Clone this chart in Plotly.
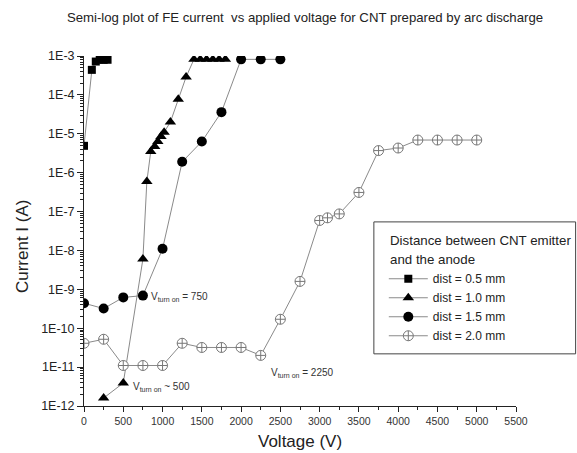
import plotly.graph_objects as go

title = "Semi-log plot of FE current  vs applied voltage for CNT prepared by arc discharge"
x_title = "Voltage (V)"
y_title = "Current I (A)"
legend_title_lines = ["Distance between CNT emitter", "and the anode"]

v05 = [0, 100, 150, 200, 250, 300]
i05 = [4.9e-6, 4.4e-4, 7.2e-4, 8.0e-4, 8.0e-4, 8.0e-4]

v10 = [250, 500, 750, 800, 850, 900, 940, 980, 1020, 1100, 1200, 1300, 1400, 1480, 1560, 1640, 1720, 1800]
i10 = [1.6e-12, 3.9e-12, 6.0e-9, 5.9e-7, 3.5e-6, 4.7e-6, 6.3e-6, 8.5e-6, 1.1e-5, 2.0e-5, 7.7e-5, 2.9e-4,
       8.2e-4, 8.2e-4, 8.2e-4, 8.2e-4, 8.2e-4, 8.2e-4]

v15 = [0, 250, 500, 750, 1000, 1250, 1500, 1750, 2000, 2250, 2500]
i15 = [4.4e-10, 3.2e-10, 6.2e-10, 6.9e-10, 1.1e-8, 1.9e-6, 6.3e-6, 3.6e-5, 8.2e-4, 8.2e-4, 8.2e-4]

v20 = [0, 250, 500, 750, 1000, 1250, 1500, 1750, 2000, 2250, 2500, 2750, 3000, 3100, 3250, 3500, 3750,
       4000, 4250, 4500, 4750, 5000]
i20 = [4.1e-11, 5.2e-11, 1.1e-11, 1.1e-11, 1.1e-11, 4.1e-11, 3.2e-11, 3.2e-11, 3.2e-11, 2.0e-11, 1.7e-10,
       1.6e-9, 5.9e-8, 6.9e-8, 8.7e-8, 3.1e-7, 3.7e-6, 4.3e-6, 6.9e-6, 6.9e-6, 6.9e-6, 6.9e-6]

names = ["dist = 0.5 mm", "dist = 1.0 mm", "dist = 1.5 mm", "dist = 2.0 mm"]
ytickvals = [1e-12, 1e-11, 1e-10, 1e-9, 1e-8, 1e-7, 1e-6, 1e-5, 1e-4, 1e-3]
yticktext = ["1E-12", "1E-11", "1E-10", "1E-9", "1E-8", "1E-7", "1E-6", "1E-5", "1E-4", "1E-3"]
xtickvals = list(range(0, 5501, 500))

line_color = "#8a8a8a"
fig = go.Figure()
fig.add_trace(go.Scatter(x=v05, y=i05, name=names[0], mode="lines+markers",
                         line=dict(color=line_color, width=1),
                         marker=dict(symbol="square", size=8, color="black")))
fig.add_trace(go.Scatter(x=v10, y=i10, name=names[1], mode="lines+markers",
                         line=dict(color=line_color, width=1),
                         marker=dict(symbol="triangle-up", size=10, color="black")))
fig.add_trace(go.Scatter(x=v15, y=i15, name=names[2], mode="lines+markers",
                         line=dict(color=line_color, width=1),
                         marker=dict(symbol="circle", size=10, color="black")))
fig.add_trace(go.Scatter(x=v20, y=i20, name=names[3], mode="lines+markers",
                         line=dict(color=line_color, width=1),
                         marker=dict(symbol="circle-cross", size=10, color="white",
                                     line=dict(color="#777777", width=1))))

ann_font = dict(family="Liberation Sans, Arial", size=10, color="#333333")
fig.add_annotation(x=830, y=-9.2, text="V<sub>turn on</sub> = 750", showarrow=False,
                   xanchor="left", yanchor="middle", font=ann_font)
fig.add_annotation(x=600, y=-11.5, text="V<sub>turn on</sub> ~ 500", showarrow=False,
                   xanchor="left", yanchor="middle", font=ann_font)
fig.add_annotation(x=2355, y=-11.15, text="V<sub>turn on</sub> = 2250", showarrow=False,
                   xanchor="left", yanchor="middle", font=ann_font)

# axis titles
fig.add_annotation(x=0.5, y=-0.1, xref="paper", yref="paper", text=x_title, showarrow=False,
                   xanchor="center", yanchor="middle", font=dict(size=17, color="#222222"))
fig.add_annotation(x=-0.1435, y=0.457, xref="paper", yref="paper", text=y_title, showarrow=False,
                   textangle=-90, xanchor="center", yanchor="middle", font=dict(size=17, color="#222222"))

# legend frame (runs to the right edge of the figure) and its two-line heading
fig.add_shape(type="rect", xref="paper", yref="paper", x0=0.671, x1=1.138, y0=0.149, y1=0.526,
              line=dict(color="#444444", width=1), fillcolor="white", layer="below")
fig.add_annotation(x=0.704, y=0.474, xref="paper", yref="paper", text=legend_title_lines[0],
                   showarrow=False, xanchor="left", yanchor="middle",
                   font=dict(size=13.3, color="#222222"))
fig.add_annotation(x=0.704, y=0.420, xref="paper", yref="paper", text=legend_title_lines[1],
                   showarrow=False, xanchor="left", yanchor="middle",
                   font=dict(size=13.3, color="#222222"))

fig.update_layout(
    width=577, height=453,
    margin=dict(l=84, r=61, t=56, b=47),
    paper_bgcolor="white", plot_bgcolor="rgba(0,0,0,0)",
    font=dict(family="Liberation Sans, Arial", color="#222222"),
    title=dict(text=title, x=0.5286, xanchor="center", y=0.962, yanchor="middle",
               font=dict(size=13.2, color="#222222")),
    showlegend=True,
    legend=dict(x=0.694, y=0.405, xanchor="left", yanchor="top",
                bgcolor="rgba(0,0,0,0)", borderwidth=0,
                font=dict(size=12, color="#222222"),
                tracegroupgap=0, itemwidth=39),
)
fig.update_xaxes(range=[0, 5500], tickvals=xtickvals, ticks="outside", ticklen=5, tickcolor="#222222",
                 showline=True, linecolor="#222222", linewidth=1, showgrid=False, zeroline=False,
                 tickfont=dict(size=10.5, color="#333333"), automargin=False,
                 minor=dict(ticks="outside", ticklen=3, dtick=250, tickcolor="#222222"))
fig.update_yaxes(type="log", range=[-12, -3], tickvals=ytickvals, ticktext=yticktext,
                 ticks="outside", ticklen=6, tickcolor="#222222",
                 showline=True, linecolor="#222222", linewidth=1, showgrid=False, zeroline=False,
                 tickfont=dict(size=12.5, color="#222222"), automargin=False,
                 minor=dict(ticks="outside", ticklen=3, dtick="D1", tickcolor="#222222"))

# remove the page's default body margin so the 577x453 figure fills the window exactly
fig.write_html("out.html", config={"displayModeBar": False},
               post_script="document.body.style.margin='0px';document.body.style.overflow='hidden';")
